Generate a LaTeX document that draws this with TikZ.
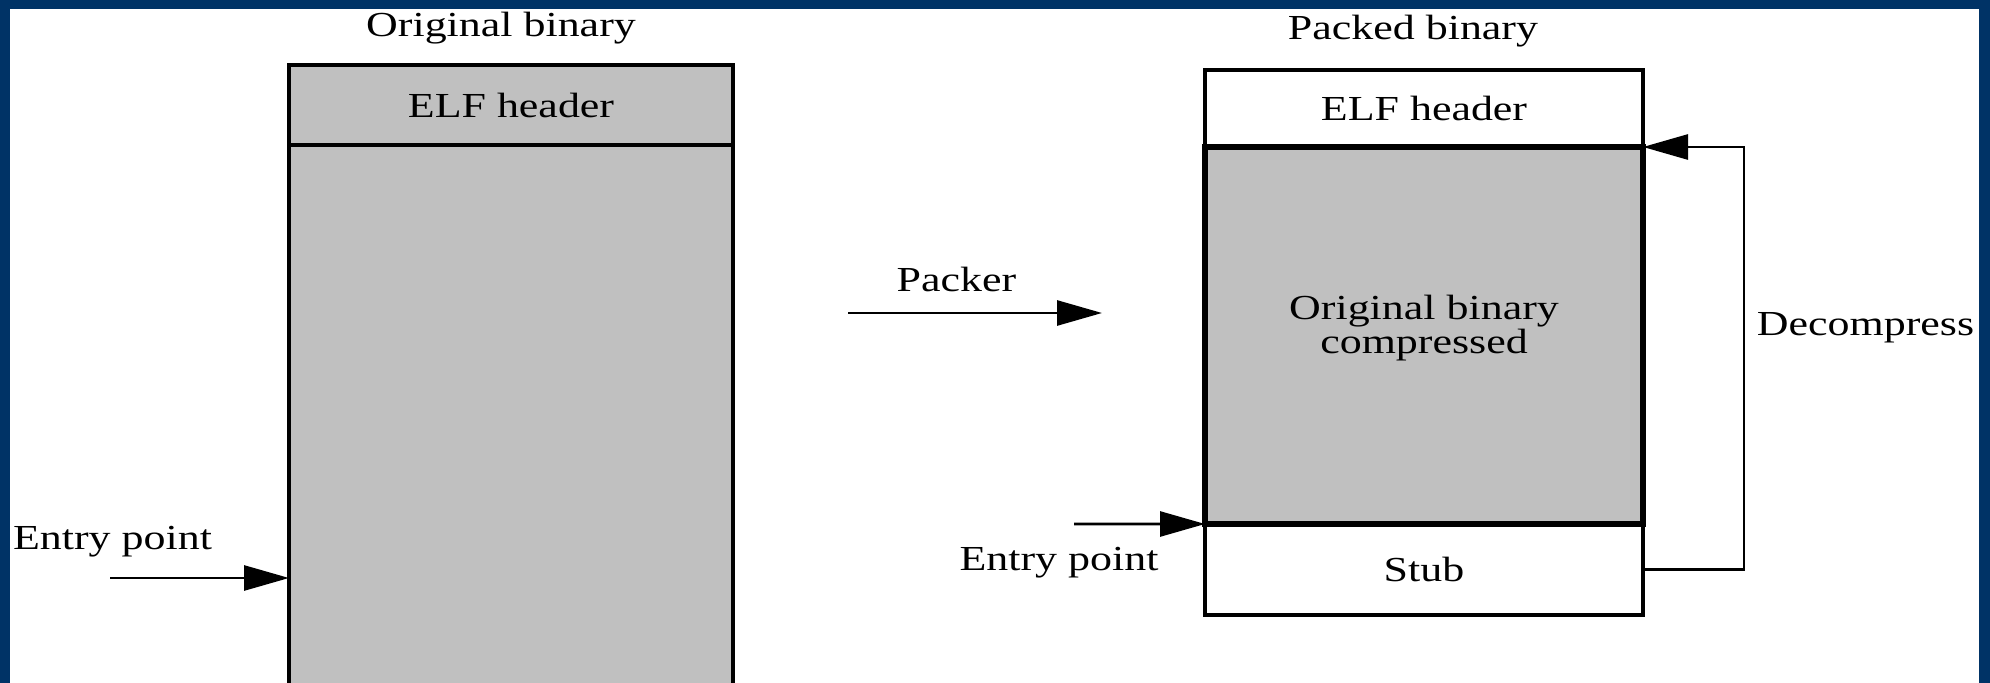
\documentclass[tikz,border=0pt]{standalone}
\usepackage{fontspec}
\setmainfont[FakeStretch=1.25]{Liberation Serif}
\usepackage{tikz}
\usetikzlibrary{arrows.meta,shapes,positioning}
\definecolor{frameblue}{RGB}{0,51,102}
\definecolor{boxgray}{RGB}{192,192,192}

\begin{document}
\begin{tikzpicture}[x=2cm, y=-2cm]
	\tikzstyle{every node} = [rectangle, font=\fontsize{20}{22}\selectfont, inner sep=0pt, outer sep=0pt]
	\tikzstyle{blk}  = [draw, line width=2pt, anchor=north west, minimum width=8.88cm]
	\tikzstyle{gblk} = [blk, fill=boxgray]
	\tikzstyle{arr}  = [line width=1.6pt, -{Triangle[length=0.9cm, width=0.5cm]}]
	\useasboundingbox (0,0) rectangle (19.9,6.83);
	\clip (0,0) rectangle (19.9,6.83);
	\fill[frameblue] (0,0) rectangle (19.9,6.83);
	\fill[white] (0.10,0.09) rectangle (19.79,6.9);
	% original binary
	\node (titleL) at (5.01,0.28) {Original binary};
	\node[gblk, minimum height=1.6cm] (hdrL) at (2.89,0.65) {ELF header};
	\node[gblk, minimum height=12cm]  (bodyL) at (hdrL.south west) {};
	\node (entLlbl) at (1.125,5.415) {Entry point};
	\coordinate (entL) at (1.10,5.78);
	\draw[arr] (entL) -- (entL -| bodyL.west);
	% packer
	\node (pklbl) at (9.565,2.795) {Packer};
	\coordinate (pk1) at (8.48,3.13);
	\coordinate (pk2) at (11.02,3.13);
	\draw[arr] (pk1) -- (pk2);
	% packed binary
	\node (titleR) at (14.13,0.31) {Packed binary};
	\node[blk, minimum width=8.76cm, minimum height=1.54cm] (hdrR) at (12.05,0.70) {ELF header};
	\node[gblk, minimum width=8.76cm, minimum height=7.54cm, line width=3pt, align=center,
	      font=\fontsize{20}{19.5}\selectfont] (comp) at (hdrR.south west)
	      {Original binary\\compressed\rule[-0.45cm]{0pt}{0pt}};
	\node[blk, minimum width=8.76cm, minimum height=1.82cm] (stub) at (comp.south west) {Stub};
	\node (entRlbl) at (10.59,5.63) {Entry point};
	\coordinate (entR) at (10.74,5.24);
	\draw[arr] (entR) -- (stub.north west);
	\node (declbl) at (18.655,3.28) {Decompress};
	\draw[arr] (stub.east) -- ++(1.01,0) |- (comp.north east);
\end{tikzpicture}
\end{document}
